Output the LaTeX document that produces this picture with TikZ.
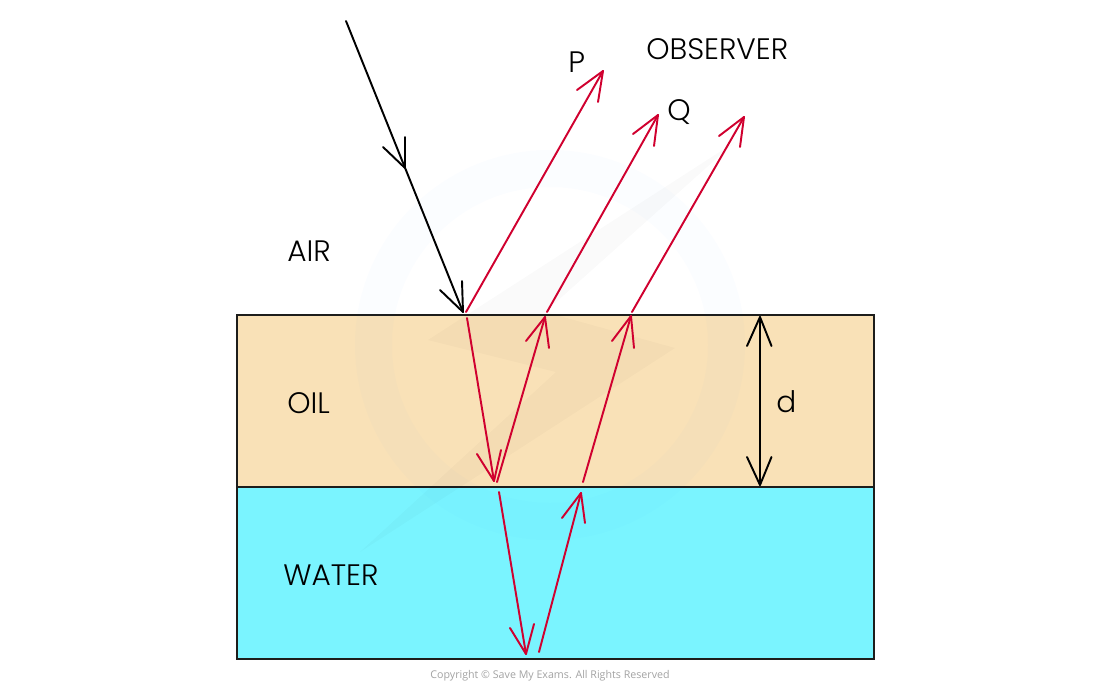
\documentclass[tikz,border=0pt]{standalone}
\usepackage{fontspec}
\setmainfont{Poppins Light}
\newfontfamily\copyfont{Open Sans}
\definecolor{oilc}{HTML}{F9E1B7}
\definecolor{waterc}{HTML}{7AF4FF}
\definecolor{rayred}{HTML}{D0002F}
\definecolor{inkc}{HTML}{1D1D1B}
\tikzset{
  ray/.style={line width=1.45pt,rayred,line cap=round,line join=round},
  blackray/.style={line width=1.45pt,black,line cap=round,line join=round},
  layerbox/.style={draw=inkc,line width=1.3pt,outer sep=0pt,inner sep=0pt,minimum width=477.75pt,minimum height=129pt,anchor=north west},
  lab/.style={inner sep=0pt,font=\fontsize{22.2}{24}\selectfont,text=black}
}
\begin{document}
\begin{tikzpicture}[x=0.75pt,y=-0.75pt]
\useasboundingbox (0,0) rectangle (1100,686);
\fill[white] (0,0) rectangle (1100,686);
% layers
\node[layerbox,fill=oilc] (oil) at (237,315) {};
\node[layerbox,fill=waterc] (water) at (237,487) {};
% faint watermark
\fill[even odd rule,blue!40!cyan,opacity=0.014] (550,345) circle[radius=195] (550,345) circle[radius=158];
\fill[black,opacity=0.02] (428,340) -- (556,372) -- (360,552) -- (675,348) -- (545,312) -- (735,142) -- cycle;
% coordinates
\coordinate (in0) at (346,21);
\coordinate (inmid) at (405,168);
\coordinate (in1) at (463,312);
% incident ray
\draw[blackray] (in0) -- (in1);
\draw[blackray] (383,147) -- (inmid) -- (405,137);
\draw[blackray] (440,290) -- (in1) -- (462,281);
% red rays: start, tip, barbs
\newcommand{\rayarrow}[4]{\draw[ray] #1 -- #2; \draw[ray] #3 -- #2 -- #4;}
\rayarrow{(466,312)}{(603,71)}{(577,90)}{(598,102)}
\rayarrow{(547,312)}{(658,115)}{(633,134)}{(654,146)}
\rayarrow{(632,312)}{(744,117)}{(719,136)}{(740,147)}
\rayarrow{(467,318)}{(494,481)}{(477,454)}{(501,450)}
\rayarrow{(497,482)}{(545,317)}{(526,341)}{(549,348)}
\rayarrow{(583,482)}{(631,316)}{(612,341)}{(634,348)}
\rayarrow{(499,492)}{(526,654)}{(510,628)}{(534,624)}
\rayarrow{(539,652)}{(581,493)}{(562,518)}{(585,523)}
% thickness arrow
\coordinate (dt) at (760,317);
\coordinate (db) at (760,485);
\draw[blackray] (dt) -- (db);
\draw[blackray] (747,346) -- (dt) -- (771.5,346);
\draw[blackray] (747,457) -- (db) -- (771.5,457);
% labels
\node[lab,anchor=base west] (air) at (287,261) {AIR};
\node[lab,anchor=base west] (oillab) at (287,413) {OIL};
\node[lab,anchor=base west] (waterlab) at (283,585) {WATER};
\node[lab,anchor=base west] (obs) at (646,59) {OBSERVER};
\node[lab,anchor=base west] (p) at (568,72) {P};
\node[lab,anchor=base west] (q) at (667,120) {Q};
\node[lab,anchor=base west] (d) at (776,412) {d};
\node[inner sep=0pt,anchor=base,text=black!36,font=\copyfont\fontsize{8}{10}\selectfont] (copy) at (550,678) {Copyright © Save My Exams. All Rights Reserved};
\end{tikzpicture}
\end{document}
